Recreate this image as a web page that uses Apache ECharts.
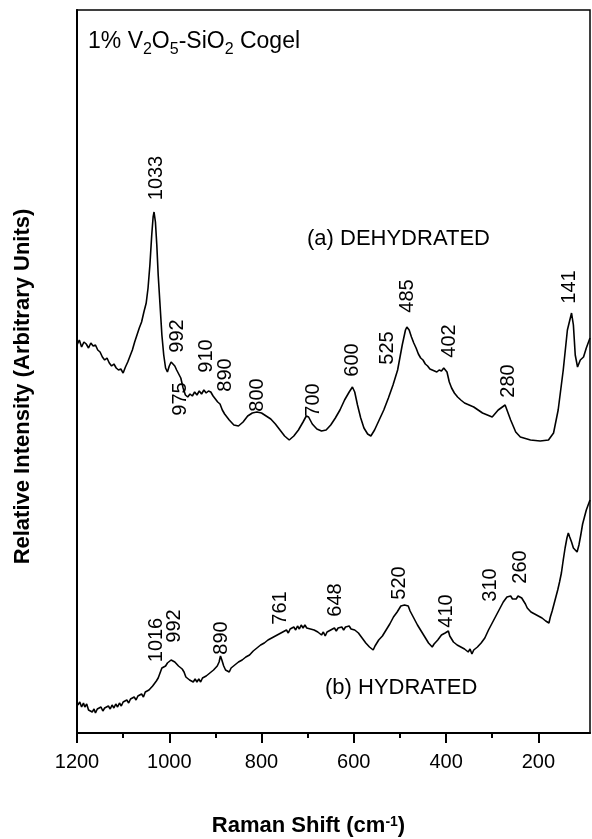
<!DOCTYPE html>
<html>
<head>
<meta charset="utf-8">
<script src="https://cdn.jsdelivr.net/npm/echarts@6/dist/echarts.min.js"></script>
<style>
  html, body { margin: 0; padding: 0; background: #fff; }
  #main { width: 592px; height: 839px; }
</style>
</head>
<body>
<div id="main"></div>
<script>
// (a) dehydrated spectrum
const shiftA = [1200,1195,1190,1185,1180,1175,1170,1165,1160,1155,1150,1145,1140,1135,1130,1125,1120,1115,1110,1105,1100,1095,1090,1085,1080,1075,1070,1065,1060,1055,1050,1046,1042,1038,1035,1033,1030,1027,1024,1020,1016,1012,1008,1004,1000,996,992,988,984,980,975,970,965,960,955,950,945,940,935,930,925,920,915,910,905,900,895,890,885,880,870,860,850,840,830,820,810,800,790,780,770,760,750,740,730,720,710,703,698,690,680,670,660,650,640,630,620,610,603,598,592,585,578,570,563,555,545,535,525,515,505,495,488,485,480,475,470,465,460,455,450,445,440,435,430,425,420,415,410,405,402,398,393,388,382,375,368,360,340,321,300,287,272,260,249,239,217,196,178,167,157,146,137,128,124,120,115,109,102,96,88];
const intensityA = [388,393,386,391,389,385,390,387,388,383,381,376,373,375,370,367,369,365,363,364,360,366,371,377,383,391,398,405,411,421,430,445,468,498,516,521,511,488,458,428,398,378,365,361,367,371,373,367,363,361,355,345,338,336,339,337,341,338,342,339,343,340,342,341,337,334,331,329,323,319,313,308,307,311,317,320,321,320,317,314,309,303,297,293,297,303,311,317,316,309,304,302,303,308,315,323,333,341,346,341,328,315,305,299,297,303,313,323,335,348,363,388,403,406,403,396,390,385,379,375,373,369,367,364,363,362,361,363,362,365,366,361,351,345,340,336,333,330,326,320,316,323,328,313,301,296,293,292,293,300,323,363,403,420,408,378,366,373,376,385,395];

// (b) hydrated spectrum
const shiftB = [1198,1194,1190,1186,1183,1179,1175,1171,1167,1163,1160,1156,1152,1148,1144,1140,1136,1132,1128,1124,1120,1116,1112,1108,1104,1100,1096,1092,1088,1084,1080,1076,1072,1068,1064,1060,1056,1052,1048,1044,1040,1036,1032,1028,1024,1020,1016,1012,1008,1004,1000,996,992,988,984,980,976,972,968,964,960,956,952,948,944,940,936,932,928,924,920,916,912,908,904,900,896,892,889,886,882,878,874,870,866,862,858,854,850,846,842,838,834,830,826,822,818,814,810,806,802,798,794,790,786,782,778,774,770,766,762,758,754,750,746,742,738,734,730,726,722,718,714,710,706,702,698,694,690,686,682,678,674,670,666,662,658,654,650,646,642,638,634,630,626,622,618,614,610,606,602,598,594,590,586,582,578,574,570,566,562,558,554,550,546,542,538,534,530,526,522,518,514,510,506,502,498,494,490,486,482,478,474,470,466,462,458,454,450,446,442,438,434,430,426,422,418,414,410,406,402,398,395,392,388,384,380,376,372,368,364,360,356,352,348,344,340,336,332,328,324,320,316,312,308,304,300,296,292,288,284,280,276,272,268,264,260,256,252,248,244,240,236,232,228,224,220,216,212,208,204,200,196,192,188,184,180,177,174,170,166,162,158,154,150,146,142,138,135,132,128,124,120,116,112,108,104,100,96,92,88];
const intensityB = [28,31,26,30,26,29,23,25,21,24,20,24,22,26,22,25,23,27,24,28,25,29,26,30,27,31,29,33,30,34,32,36,33,37,35,39,36,41,39,43,42,47,46,52,55,60,65,63,67,70,68,73,75,71,72,67,69,64,61,56,58,53,55,51,54,51,54,51,55,53,57,55,60,58,63,62,67,71,77,73,67,63,65,61,65,63,68,66,71,69,73,71,76,74,78,77,82,80,85,83,88,86,90,88,93,91,95,93,97,95,99,97,101,99,103,100,104,102,106,103,107,104,108,105,108,105,107,104,106,103,105,101,103,98,101,97,101,99,103,101,105,102,105,103,106,103,106,104,107,104,106,103,104,100,99,95,94,90,89,86,87,83,87,88,93,92,97,98,103,104,109,111,116,118,121,123,127,125,128,126,127,122,120,115,113,108,107,102,100,96,95,90,91,86,89,88,93,94,98,96,100,99,102,97,96,91,93,88,90,86,88,84,86,81,84,79,83,81,86,85,90,89,95,97,103,105,110,112,117,119,124,126,131,132,136,134,137,134,136,134,137,138,135,132,129,125,123,121,122,119,120,117,118,115,116,112,113,110,116,122,129,136,143,151,160,173,185,195,200,196,191,185,183,181,188,198,209,216,223,228,233];

// peak labels: [shift, height] where the label is centred
const peakTextA = ['1033','992','975','910','890','800','700','600','525','485','402','280','141'];
const peakPosA = [[1027,555],[983,397],[975,334],[920,377],[879,358],[808,338],[687,333],[602,373],[528,385],[483,437],[392,392],[264,352],[132,446]];
const peakTextB = ['1016','992','890','761','648','520','410','310','260'];
const peakPosB = [[1027,93],[988,107],[886,95],[760,125],[639,133],[500,150],[400,122],[303,148],[238,166]];

const xMajor = [1200,1000,800,600,400,200];
const xMinor = [1100,900,700,500,300];

const FONT = 'Liberation Sans, Arial, sans-serif';

function pairs(xs, ys) {
  return xs.map((x, i) => [x, ys[i]]);
}
function peakSeries(texts, pos) {
  return {
    type: 'scatter',
    symbolSize: 0,
    silent: true,
    itemStyle: { opacity: 1 },
    data: pos.map((p, i) => ({
      value: p,
      label: { formatter: texts[i] }
    })),
    label: {
      show: true,
      position: 'inside',
      rotate: 90,
      color: '#000',
      fontSize: 20,
      fontFamily: FONT
    }
  };
}

const chart = echarts.init(document.getElementById('main'), null, { renderer: 'canvas' });
chart.setOption({
  animation: false,
  backgroundColor: '#fff',
  grid: {
    left: 77, right: 2, top: 10, bottom: 106,
    outerBoundsMode: 'none',
    containLabel: false,
    show: true, borderColor: '#000', borderWidth: 1.5
  },
  xAxis: [{
    type: 'value',
    min: 88, max: 1200,
    inverse: true,
    position: 'bottom',
    name: '{b|Raman Shift (cm}{sup|-1}{b|)}',
    nameLocation: 'middle',
    nameGap: 82,
    nameTextStyle: {
      padding: [0, 50, 0, 0],
      rich: {
        b: { fontSize: 22, fontWeight: 'bold', fontFamily: FONT, color: '#000' },
        sup: { fontSize: 14, fontWeight: 'bold', fontFamily: FONT, color: '#000', verticalAlign: 'top', lineHeight: 14, padding: [0, 0, 10, 0] }
      }
    },
    axisLine: { show: true, lineStyle: { color: '#000', width: 2 } },
    axisTick: { show: true, inside: false, length: 10, lineStyle: { width: 2 }, customValues: xMajor },
    axisLabel: {
      show: true, customValues: xMajor, margin: 19, fontSize: 20, color: '#000', fontFamily: FONT,
      formatter: v => String(v)
    },
    splitLine: { show: false }
  }, {
    type: 'value',
    min: 88, max: 1200,
    inverse: true,
    position: 'bottom',
    axisLine: { show: false },
    axisTick: { show: true, inside: false, length: 5, lineStyle: { width: 2, color: '#000' }, customValues: xMinor },
    axisLabel: { show: false },
    splitLine: { show: false }
  }],
  yAxis: {
    type: 'value',
    min: 0, max: 723,
    name: 'Relative Intensity (Arbitrary Units)',
    nameLocation: 'middle',
    nameGap: 43,
    nameTextStyle: { fontSize: 22, fontWeight: 'bold', fontFamily: FONT, color: '#000', padding: [0, 30, 0, 0] },
    axisLine: { show: true, lineStyle: { color: '#000', width: 2 } },
    axisTick: { show: false },
    axisLabel: { show: false },
    splitLine: { show: false }
  },
  graphic: [{
    type: 'text',
    left: 88, top: 30,
    style: {
      text: '{m|1% V}{s|2}{m|O}{s|5}{m|-SiO}{s|2}{m| Cogel}',
      rich: {
        m: { fontSize: 23, fontFamily: FONT, fill: '#000', lineHeight: 32, verticalAlign: 'middle' },
        s: { fontSize: 16, fontFamily: FONT, fill: '#000', lineHeight: 32, verticalAlign: 'bottom' }
      }
    }
  }, {
    type: 'text',
    left: 307, top: 228,
    style: { text: '(a) DEHYDRATED', fontSize: 22, fontFamily: FONT, fill: '#000' }
  }, {
    type: 'text',
    left: 325, top: 677,
    style: { text: '(b) HYDRATED', fontSize: 22, fontFamily: FONT, fill: '#000' }
  }],
  series: [{
    name: 'dehydrated',
    type: 'line',
    showSymbol: false,
    data: pairs(shiftA, intensityA),
    lineStyle: { color: '#000', width: 1.6 },
    z: 3
  }, {
    name: 'hydrated',
    type: 'line',
    showSymbol: false,
    data: pairs(shiftB, intensityB),
    lineStyle: { color: '#000', width: 1.6 },
    z: 3
  },
  peakSeries(peakTextA, peakPosA),
  peakSeries(peakTextB, peakPosB)
  ]
});
</script>
</body>
</html>
